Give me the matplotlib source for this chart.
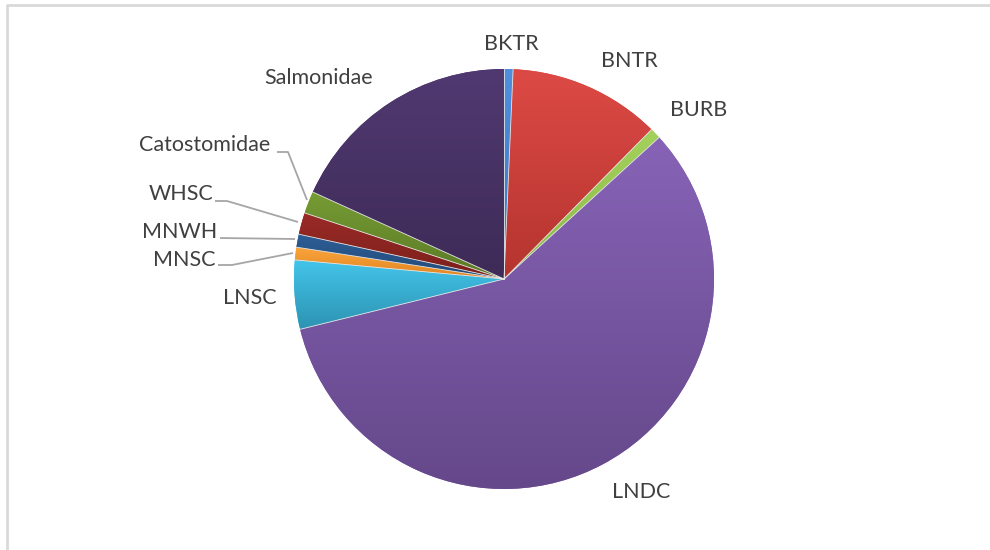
import numpy as np
import matplotlib
matplotlib.use("Agg")
import matplotlib.pyplot as plt
from matplotlib.colors import to_rgb

labels = ["BKTR", "BNTR", "BURB", "LNDC", "LNSC", "MNSC", "MNWH", "WHSC", "Catostomidae", "Salmonidae"]
values = [0.69, 11.7, 0.83, 57.9, 5.3, 0.97, 1.0, 1.67, 1.7, 18.2]
top_colors = ["#4F8FDD", "#DD4A45", "#A4D05C", "#8763B7", "#43C5EA", "#FAA43C", "#2D5E96", "#9B2B27", "#769C34", "#503971"]
bot_colors = ["#3A76C2", "#B5342F", "#8CB847", "#65488A", "#2D93B2", "#E0841F", "#224A78", "#7A1F1B", "#5B7925", "#3E2B57"]

W, H = 990, 550
cx, cy, R = 504, 279, 210

fig = plt.figure(figsize=(9.9, 5.5), dpi=100)
ax = fig.add_axes([0, 0, 1, 1])
ax.set_xlim(-cx / R, (W - cx) / R)
ax.set_ylim((cy - H) / R, cy / R)
ax.set_aspect("auto")
ax.axis("off")

def px(x, y):
    return (x - cx) / R, (cy - y) / R

wedges, _ = ax.pie(values, startangle=90, counterclock=False, radius=1,
                   colors=top_colors, wedgeprops=dict(linewidth=0))
ax.set_xlim(-cx / R, (W - cx) / R)
ax.set_ylim((cy - H) / R, cy / R)
ax.set_aspect("auto")

for w, c1, c2 in zip(wedges, top_colors, bot_colors):
    t = np.linspace(np.deg2rad(w.theta1), np.deg2rad(w.theta2), 200)
    xs = np.concatenate([[0], np.cos(t)])
    ys = np.concatenate([[0], np.sin(t)])
    x0, x1, y0, y1 = xs.min(), xs.max(), ys.min(), ys.max()
    n = 256
    a = np.linspace(0, 1, n)[:, None]
    c1r, c2r = np.array(to_rgb(c1)), np.array(to_rgb(c2))
    img = (c1r[None, :] * (1 - a) + c2r[None, :] * a)[:, None, :]
    img = np.repeat(img, 2, axis=1)
    im = ax.imshow(img, extent=(x0, x1, y0, y1), origin="upper",
                   aspect="auto", interpolation="bilinear", zorder=2)
    im.set_clip_path(w)

# thin slice edges
for w in wedges:
    t1, t2 = w.theta1, w.theta2
    for th in (t1,):
        ax.plot([0, np.cos(np.deg2rad(th))], [0, np.sin(np.deg2rad(th))],
                color="#E6E6E6", lw=0.6, zorder=3)
ax.set_xlim(-cx / R, (W - cx) / R)
ax.set_ylim((cy - H) / R, cy / R)

# labels
label_pos = {
    "BKTR": (511, 44), "BNTR": (629, 61), "BURB": (699, 110), "LNDC": (641, 492),
    "LNSC": (250, 298), "MNSC": (184, 260), "MNWH": (180, 232), "WHSC": (181, 194),
    "Catostomidae": (205, 145), "Salmonidae": (319, 78),
}
for name in labels:
    x, y = px(*label_pos[name])
    ax.text(x, y, name, ha="center", va="center", fontsize=15.5,
            family="Lato", color="#404040", zorder=5)

# leader lines
leaders = [
    [(277, 152), (288, 152), (307, 200)],
    [(215, 201), (227, 201), (298, 222)],
    [(220, 238), (295, 239)],
    [(218, 265), (232, 265), (293, 253)],
]
for pts in leaders:
    d = [px(*p) for p in pts]
    ax.plot([p[0] for p in d], [p[1] for p in d], color="#A6A6A6", lw=1.3,
            zorder=4, solid_capstyle="butt")

# chart border (cropped at right/bottom)
border = [(7, 552), (7, 5), (992, 5)]
d = [px(*p) for p in border]
ax.plot([p[0] for p in d], [p[1] for p in d], color="#D9D9D9", lw=2, zorder=1,
        clip_on=False)

fig.savefig("out.png", dpi=100, facecolor="white")
